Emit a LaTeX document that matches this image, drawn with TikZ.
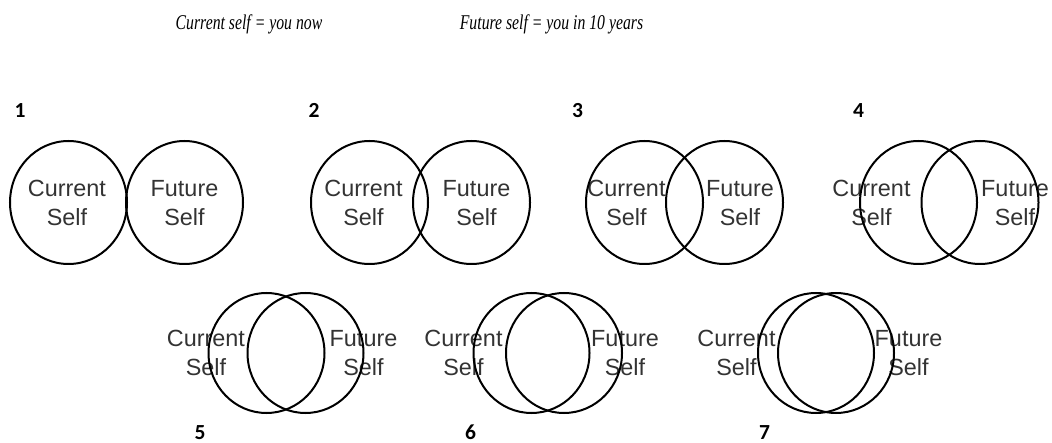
\documentclass[tikz,border=0pt]{standalone}
\usepackage{fontspec}
\usepackage{graphicx}
\setmainfont{Liberation Serif}
\newfontfamily\lsans{Liberation Sans}
\newfontfamily\calib{Carlito}
\usetikzlibrary{shapes.geometric}
\newcommand{\twoline}[2]{\strut #1\\\strut #2}
\begin{document}
\begin{tikzpicture}[x=1pt,y=-1pt,
  ring/.style={draw=black, line width=2pt, ellipse, inner sep=0pt, minimum width=117pt, minimum height=123pt},
  ringb/.style={ring, minimum width=116pt, minimum height=120pt},
  lbl/.style={align=center, font=\lsans\fontsize{23.4}{29}\selectfont, text=black!80, inner sep=0pt},
  num/.style={font=\calib\bfseries\fontsize{21.5}{24}\selectfont, anchor=base, inner sep=0pt},
  head/.style={font=\itshape\fontsize{21}{24}\selectfont, anchor=base, inner sep=0pt}]
\useasboundingbox (0,0) rectangle (1052,443);

% headings
\node[head] (h1) at (249,30) {\scalebox{0.75}[1]{Current self = you now}};
\node[head] (h2) at (551.5,30) {\scalebox{0.75}[1]{Future self = you in 10 years}};

% numbers
\node[num] (n1) at (20,118) {1};
\node[num] (n2) at (314,118) {2};
\node[num] (n3) at (577.5,118) {3};
\node[num] (n4) at (858.5,118) {4};
\node[num] (n5) at (200,439) {5};
\node[num] (n6) at (470.5,439) {6};
\node[num] (n7) at (764.5,439) {7};

% labels row 1
\node[lbl] (c1) at (67,205) {\twoline{Current}{Self}};
\node[lbl] (f1) at (184.5,205) {\twoline{Future}{Self}};
\node[lbl] (c2) at (363.5,205) {\twoline{Current}{Self}};
\node[lbl] (f2) at (476.5,205) {\twoline{Future}{Self}};
\node[lbl] (c3) at (626.5,205) {\twoline{Current}{Self}};
\node[lbl] (f3) at (740,205) {\twoline{Future}{Self}};
\node[lbl] (c4) at (871.5,205) {\twoline{Current}{Self}};
\node[lbl] (f4) at (1015,205) {\twoline{Future}{Self}};
% labels row 2
\node[lbl] (c5) at (206,355) {\twoline{Current}{Self}};
\node[lbl] (f5) at (363.5,355) {\twoline{Future}{Self}};
\node[lbl] (c6) at (463.5,355) {\twoline{Current}{Self}};
\node[lbl] (f6) at (625,355) {\twoline{Future}{Self}};
\node[lbl] (c7) at (736.5,355) {\twoline{Current}{Self}};
\node[lbl] (f7) at (908.5,355) {\twoline{Future}{Self}};

% circles row 1
\node[ring] (a1) at (68.5,202.5) {};
\node[ring] (b1) at (184.5,202.5) {};
\node[ring] (a2) at (369.5,202.5) {};
\node[ring] (b2) at (471.5,202.5) {};
\node[ring] (a3) at (644.5,202.5) {};
\node[ring] (b3) at (724.5,202.5) {};
\node[ring] (a4) at (918.5,202.5) {};
\node[ring] (b4) at (980,202.5) {};
% circles row 2
\node[ringb] (a5) at (266.5,353) {};
\node[ringb] (b5) at (305.5,353) {};
\node[ringb] (a6) at (531.5,353) {};
\node[ringb] (b6) at (564,353) {};
\node[ringb] (a7) at (816,353) {};
\node[ringb] (b7) at (836,353) {};
\end{tikzpicture}
\end{document}
